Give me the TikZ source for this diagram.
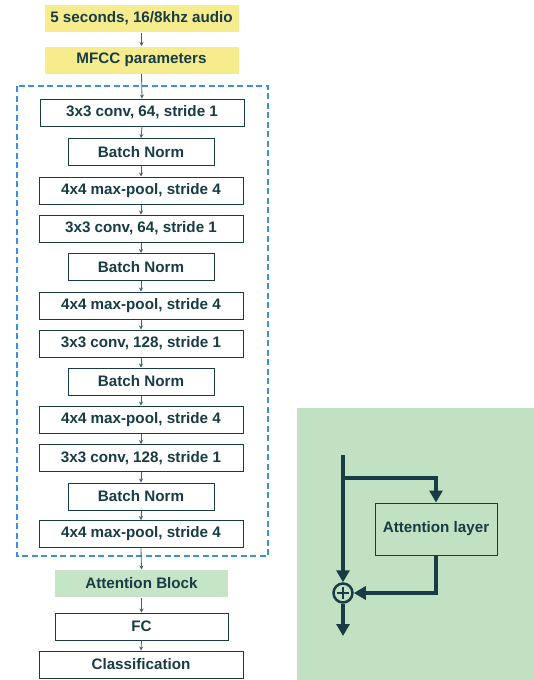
\documentclass[tikz,border=0pt]{standalone}
\usepackage{fontspec}
\setmainfont{Liberation Sans}
\usetikzlibrary{arrows.meta}

\definecolor{ink}{HTML}{173C45}
\definecolor{padyellow}{HTML}{F6EC8E}
\definecolor{attgreen}{HTML}{C6E4C6}
\definecolor{panelgreen}{HTML}{C2E0C2}
\definecolor{dashblue}{HTML}{3F8FDA}

\tikzset{
  layer/.style={draw=ink, fill=white, line width=1pt, text=ink,
    minimum height=27pt, inner sep=0pt,
    font=\fontsize{15.2}{17}\selectfont\bfseries},
  wide/.style={layer, minimum width=204pt},
  narrow/.style={layer, minimum width=146pt},
  input/.style={layer, draw=none, fill=padyellow, minimum width=194pt},
  flow/.style={draw=ink!80, line width=0.8pt, -{Stealth[length=4pt, width=4pt]}},
  skip/.style={draw=ink, line width=3.5pt, -{Triangle[length=12pt, width=13pt]}}
}

\begin{document}
\begin{tikzpicture}[x=1pt, y=-1pt]
  \useasboundingbox (0,0) rectangle (534,680);

  % right panel
  \fill[panelgreen] (297,408) rectangle (534,680);

  % feature extractor
  \draw[dashblue, line width=1.5pt, dash pattern=on 6pt off 3.5pt]
    (17,86) rectangle (268,556);

  \node[input] (audio) at (141.5,18.5) {5 seconds, 16/8khz audio};
  \node[input] (mfcc) at (141.5,60) {MFCC parameters};

  \node[wide] (conva) at (142,112.5) {3x3 conv, 64, stride 1};
  \node[narrow] (bna) at (141,152) {Batch Norm};
  \node[wide] (poola) at (141,190.5) {4x4 max-pool, stride 4};
  \node[wide] (convb) at (141,228.5) {3x3 conv, 64, stride 1};
  \node[narrow] (bnb) at (141,267) {Batch Norm};
  \node[wide] (poolb) at (141,305.5) {4x4 max-pool, stride 4};
  \node[wide] (convc) at (141,343.5) {3x3 conv, 128, stride 1};
  \node[narrow] (bnc) at (141,381.5) {Batch Norm};
  \node[wide] (poolc) at (141,419.5) {4x4 max-pool, stride 4};
  \node[wide] (convd) at (141,458) {3x3 conv, 128, stride 1};
  \node[narrow] (bnd) at (141,496.5) {Batch Norm};
  \node[wide] (poold) at (141,534) {4x4 max-pool, stride 4};

  \node[layer, draw=none, fill=attgreen, minimum width=173pt] (attblock)
    at (141.5,583.5) {Attention Block};
  \node[layer, minimum width=173pt] (fc) at (141.5,626.5) {FC};
  \node[wide] (cls) at (141,664.5) {Classification};

  \foreach \a/\b in {audio/mfcc, mfcc/conva, conva/bna, bna/poola,
      poola/convb, convb/bnb, bnb/poolb, poolb/convc, convc/bnc,
      bnc/poolc, poolc/convd, convd/bnd, bnd/poold, poold/attblock,
      attblock/fc, fc/cls}
    \draw[flow] (\a.south) -- (\b.north);

  % attention block detail
  \node[layer, fill=panelgreen, minimum width=122pt, minimum height=52pt]
    (attlayer) at (436,529) {Attention layer};
  \node[draw=ink, line width=2.5pt, circle, minimum size=19pt, inner sep=0pt,
    path picture={\draw[ink, line width=2pt]
      (path picture bounding box.center) ++(0,-6) -- ++(0,12)
      (path picture bounding box.center) ++(-6,0) -- ++(12,0);}]
    (plus) at (343,593) {};
  \coordinate (xin) at (343,455);
  \coordinate (split) at (343,478);
  \coordinate (xout) at (343,636);

  \draw[skip] (xin) -- (plus.north);
  \draw[skip] (split) -| (attlayer.north);
  \draw[skip] (attlayer.south) |- (plus.east);
  \draw[skip] (plus.south) -- (xout);
\end{tikzpicture}
\end{document}
